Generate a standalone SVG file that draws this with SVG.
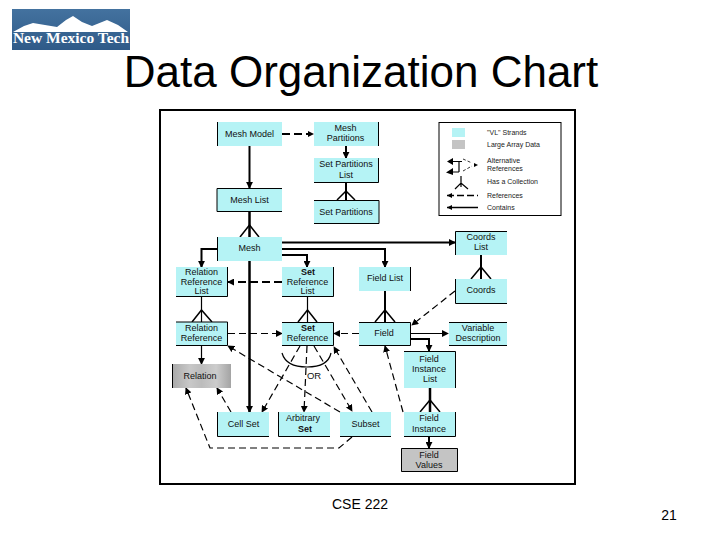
<svg xmlns="http://www.w3.org/2000/svg" width="720" height="540" viewBox="0 0 720 540">
<style>
text{font-family:"Liberation Sans",Arial,sans-serif;fill:#000}
.t{font-size:9px;text-anchor:middle;fill:#111}
.b{font-weight:bold}
.n{fill:#b5f3f5}
.g{fill:#c4c4c4}
.e{fill:none;stroke:#000;stroke-width:1}
.c{fill:none;stroke:#000;stroke-width:2}
.w{fill:none;stroke:#000;stroke-width:2.5}
.s{fill:none;stroke:#000;stroke-width:1.2}
.f{fill:none;stroke:#000;stroke-width:1.5}
.d{fill:none;stroke:#000;stroke-width:1.2;stroke-dasharray:7 4}
.dh{fill:none;stroke:#000;stroke-width:2;stroke-dasharray:8 4}
.l{font-size:7px;fill:#222}
</style>
<defs>
<marker id="a" viewBox="0 0 8 8" refX="7" refY="4" markerWidth="7" markerHeight="7" markerUnits="userSpaceOnUse" orient="auto"><path d="M0 0L8 4L0 8Z" fill="#000"/></marker>
<linearGradient id="rel" x1="0" x2="1" y1="0" y2="0"><stop offset="0" stop-color="#a8a8a8"/><stop offset=".3" stop-color="#c8c8c8"/><stop offset=".5" stop-color="#bcbcbc"/><stop offset=".75" stop-color="#cccccc"/><stop offset="1" stop-color="#a4a4a4"/></linearGradient>
<linearGradient id="sky" x1="0" x2="0" y1="0" y2="1"><stop offset="0" stop-color="#43729f"/><stop offset="1" stop-color="#2f5a88"/></linearGradient>
</defs>

<g id="logo">
<rect x="12" y="9" width="118" height="41" fill="url(#sky)"/>
<path d="M13 32L24 26L33 23L45 25L57 27L66 20L73 16L82 22L92 26L107 20L118 25L128 32Z" fill="#fff"/>
<text x="71" y="42.500" font-size="15.500" font-weight="bold" text-anchor="middle" style="font-family:'Liberation Serif',serif;fill:#fff">New Mexico Tech</text>
</g>
<text id="title" x="361" y="87" font-size="44" text-anchor="middle" fill="#000">Data Organization Chart</text>
<rect id="frame" x="160" y="110" width="415" height="374" fill="#fff" stroke="#000" stroke-width="2"/>

<g id="connectors">
<path class="dh" d="M282 134H310"/><path d="M308 131L314 134L308 137Z"/>
<path class="c" d="M346 146V158" marker-end="url(#a)"/>
<path class="c" d="M249.500 146V188" marker-end="url(#a)"/>
<path class="c" d="M346 183V200"/>
<path class="f" d="M337 200L346 191L355 200"/>
<path class="w" d="M249.500 212V237"/>
<path class="f" d="M240 237L249.500 225L259 237"/>
<path class="c" d="M282 242.500H455" marker-end="url(#a)"/>
<path class="c" d="M282 249H385V267" marker-end="url(#a)"/>
<path class="c" d="M282 255H307V267" marker-end="url(#a)"/>
<path class="c" d="M217 249H201.500V267" marker-end="url(#a)"/>
<path class="dh" d="M282 282H228" marker-end="url(#a)"/>
<path class="w" d="M249.500 261V412" marker-end="url(#a)"/>
<path class="s" d="M201.500 297V322"/>
<path class="f" d="M192 322L201.500 310L212 322"/>
<path class="s" d="M307.500 297V322"/>
<path class="f" d="M298 322L307.500 310L317 322"/>
<path class="c" d="M385 291V322"/>
<path class="f" d="M375 322L385 310L395 322"/>
<path class="c" d="M481 255V279"/>
<path class="f" d="M471 279L481 267L491 279"/>
<path class="d" d="M455 291L412 325" marker-end="url(#a)"/>
<path class="d" d="M228 333.500H282" marker-end="url(#a)"/>
<path class="d" d="M359 333.500H334" marker-end="url(#a)"/>
<path class="s" d="M411 333.500H448" marker-end="url(#a)"/>
<path class="c" d="M411 339H429V351" marker-end="url(#a)"/>
<path class="s" d="M201.500 345V364" marker-end="url(#a)"/>
<path class="d" d="M300 346L262 412" marker-end="url(#a)"/>
<path class="d" d="M307 346L304 412" marker-end="url(#a)"/>
<path class="d" d="M314 346L352 411" marker-end="url(#a)"/>
<path class="d" d="M372 412L334 347" marker-end="url(#a)"/>
<path class="d" d="M340 412L228 346" marker-end="url(#a)"/>
<path class="d" d="M403 412L385 346" marker-end="url(#a)"/>
<path class="s" d="M282 353Q286 367 307 367Q328 367 331 353"/>
<path class="d" d="M231 412L217 388" marker-end="url(#a)"/>
<path class="d" d="M352 437L339 448H210L186 388" marker-end="url(#a)"/>
<path class="w" d="M430 388V412"/>
<path class="f" d="M420 412L430 400L440 412"/>
<path class="c" d="M429 436V448" marker-end="url(#a)"/>
</g>

<g id="mesh-model"><rect class="n" x="217" y="122" width="65" height="24"/><path class="e" d="M217.500 122V146"/><text class="t" x="249.500" y="136.500">Mesh Model</text></g>
<g id="mesh-partitions"><rect class="n" x="314" y="122" width="65" height="24"/><path class="e" d="M378.500 122V146"/><text class="t" x="345.500" y="131">Mesh</text><text class="t" x="345.500" y="141">Partitions</text></g>
<g id="set-partitions-list"><rect class="n" x="314" y="158" width="65" height="25"/><path class="e" d="M378.500 158V182.500H314"/><text class="t" x="346" y="167">Set Partitions</text><text class="t" x="346" y="178">List</text></g>
<g id="set-partitions"><rect class="n" x="314" y="200" width="65" height="24"/><path class="e" d="M314 200.500H379V223.500H314"/><text class="t" x="346" y="214.500">Set Partitions</text></g>
<g id="mesh-list"><rect class="n" x="217" y="188" width="65" height="24"/><path class="e" d="M282 188.500H217V211.500H282"/><text class="t" x="249.500" y="203">Mesh List</text></g>
<g id="mesh"><rect class="n" x="217" y="237" width="65" height="24"/><path class="e" d="M217.500 237V261"/><text class="t" x="249.500" y="251">Mesh</text></g>
<g id="relation-reference-list"><rect class="n" x="176" y="267" width="52" height="30"/><path class="e" d="M176 296.500H227.500V267"/><text class="t" x="201.500" y="275">Relation</text><text class="t" x="201.500" y="284.500">Reference</text><text class="t" x="201.500" y="294">List</text></g>
<g id="set-reference-list"><rect class="n" x="282" y="267" width="52" height="30"/><path class="e" d="M282 296.500H333.500V267"/><text class="t b" x="308" y="275">Set</text><text class="t" x="307.500" y="284.500">Reference</text><text class="t" x="307.500" y="294">List</text></g>
<g id="field-list"><rect class="n" x="359" y="267" width="52" height="24"/><path class="e" d="M410.500 267V291"/><text class="t" x="385" y="281">Field List</text></g>
<g id="relation-reference"><rect class="n" x="176" y="322" width="52" height="23"/><path class="e" d="M176 345.500H227.500V322H176"/><text class="t" x="201.500" y="331">Relation</text><text class="t" x="201.500" y="340.500">Reference</text></g>
<g id="set-reference"><rect class="n" x="282" y="322" width="52" height="23"/><path class="e" d="M282 322.500H333.500V345.500H282"/><text class="t b" x="308" y="331">Set</text><text class="t" x="307.500" y="340.500">Reference</text></g>
<g id="field"><rect class="n" x="359" y="322" width="52" height="23"/><path class="e" d="M359 322.500H410.500V345.500H359"/><text class="t" x="384" y="336">Field</text></g>
<g id="variable-description"><rect class="n" x="449" y="322" width="58" height="23"/><path class="e" d="M449 322.500H507M449 345.500H507"/><text class="t" x="478" y="331">Variable</text><text class="t" x="478" y="340.500">Description</text></g>
<g id="coords-list"><rect class="n" x="455" y="231" width="52" height="24"/><path class="e" d="M455.500 255V231.500H507"/><text class="t" x="481" y="240">Coords</text><text class="t" x="481" y="250">List</text></g>
<g id="coords"><rect class="n" x="455" y="279" width="52" height="24"/><path class="e" d="M455.500 279V303.500H507"/><text class="t" x="481" y="293">Coords</text></g>
<g id="relation"><rect x="172" y="364" width="59" height="24" fill="url(#rel)"/><path class="e" d="M172.500 364V388"/><text class="t" x="200" y="378.500">Relation</text></g>
<g id="cell-set"><rect class="n" x="217" y="412" width="52" height="24"/><path class="e" d="M217.500 412V436.500H269"/><text class="t" x="243.500" y="426.500">Cell Set</text></g>
<g id="arbitrary-set"><rect class="n" x="278" y="412" width="52" height="24"/><path class="e" d="M278.500 412V436.500H330"/><text class="t" x="303" y="421">Arbitrary</text><text class="t b" x="305" y="431.500">Set</text></g>
<g id="subset"><rect class="n" x="340" y="412" width="51" height="24"/><path class="e" d="M340 436.500H391"/><text class="t" x="365.500" y="426.500">Subset</text></g>
<g id="field-instance-list"><rect class="n" x="404" y="351" width="52" height="37"/><path class="e" d="M404 351.500H455.500V388"/><text class="t" x="429" y="362">Field</text><text class="t" x="429" y="372">Instance</text><text class="t" x="430" y="382">List</text></g>
<g id="field-instance"><rect class="n" x="404" y="412" width="52" height="24"/><path class="e" d="M404 436.500H455.500V412"/><text class="t" x="429" y="421">Field</text><text class="t" x="429" y="431.500">Instance</text></g>
<g id="field-values"><rect class="g" x="401" y="448" width="57" height="24"/><path class="e" d="M401.500 448.500H457.500V471.500H401.500Z"/><text class="t" x="429" y="458">Field</text><text class="t" x="429" y="467.500">Values</text></g>
<text id="or" class="t" x="314" y="379" style="font-size:9.500px">OR</text>

<g id="legend">
<rect x="439" y="122.500" width="122" height="93" fill="#fff" stroke="#000"/>
<rect class="n" x="452" y="128" width="13" height="9"/>
<rect x="452" y="140" width="13" height="9" fill="#c4c4c4"/>
<path class="s" d="M459 161V172M452 161.500H462M453 172H459"/>
<path d="M447 161.500L453 158V165Z M446 172.500L453 168V175Z"/>
<path class="d" d="M463 159L472 163M463 171L472 166" style="stroke-dasharray:3 2;stroke-width:.8"/>
<path d="M474 163L478 165L474 167Z"/>
<path class="s" d="M461 176V187M455 189L461 183L468 189"/>
<path class="dh" d="M447 195.500H478" style="stroke-width:1.500;stroke-dasharray:7 3"/><path d="M447 195.500L452 193V198Z"/>
<path class="c" d="M447 207.500H478" style="stroke-width:1.500"/><path d="M447 207.500L452 205V210Z"/>
<text class="l" x="487" y="134.500">"VL" Strands</text>
<text class="l" x="487" y="146.500">Large Array Data</text>
<text class="l" x="487" y="163">Alternative</text>
<text class="l" x="487" y="171">References</text>
<text class="l" x="487" y="184">Has a Collection</text>
<text class="l" x="487" y="198">References</text>
<text class="l" x="487" y="210">Contains</text>
</g>
<text id="footer" x="360" y="509" font-size="14" text-anchor="middle">CSE 222</text>
<text id="page" x="669" y="520" font-size="14" text-anchor="middle">21</text>
</svg>
